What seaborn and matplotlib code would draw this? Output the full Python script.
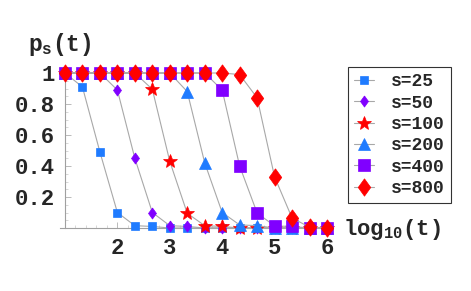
import matplotlib
matplotlib.use('Agg')
import matplotlib.pyplot as plt
import seaborn as sns
import pandas as pd
from matplotlib.ticker import MultipleLocator, FixedLocator

# ---- data ----
log_t = [1.0, 1.333, 1.667, 2.0, 2.333, 2.667, 3.0, 3.333,
         3.667, 4.0, 4.333, 4.667, 5.0, 5.333, 5.667, 6.0]
p_s25 = [1.0, 0.91, 0.49, 0.10, 0.015, 0.01, 0.0, 0.0,
         0.0, 0.0, 0.0, 0.0, 0.0, 0.0, 0.0, 0.0]
p_s50 = [1.0, 1.0, 1.0, 0.89, 0.45, 0.10, 0.015, 0.01,
         0.0, 0.0, 0.0, 0.0, 0.0, 0.0, 0.0, 0.0]
p_s100 = [1.0, 1.0, 1.0, 1.0, 1.0, 0.895, 0.43, 0.095,
          0.015, 0.01, 0.0, 0.0, 0.0, 0.0, 0.0, 0.0]
p_s200 = [1.0, 1.0, 1.0, 1.0, 1.0, 1.0, 1.0, 0.88,
          0.42, 0.10, 0.02, 0.015, 0.0, 0.0, 0.0, 0.0]
p_s400 = [1.0, 1.0, 1.0, 1.0, 1.0, 1.0, 1.0, 1.0,
          1.0, 0.89, 0.40, 0.097, 0.013, 0.01, 0.0, 0.0]
p_s800 = [1.0, 1.0, 1.0, 1.0, 1.0, 1.0, 1.0, 1.0,
          1.0, 1.0, 0.99, 0.84, 0.33, 0.065, 0.005, 0.002]
series_labels = ['s=25', 's=50', 's=100', 's=200', 's=400', 's=800']
series_values = [p_s25, p_s50, p_s100, p_s200, p_s400, p_s800]
x_ticks = [2, 3, 4, 5, 6]
y_ticks = [0.2, 0.4, 0.6, 0.8, 1.0]
y_ticklabels = ['0.2', '0.4', '0.6', '0.8', '1']

# ---- styles ----
diamond = [(0, 1), (0.72, 0), (0, -1), (-0.72, 0), (0, 1)]
blue = '#1f7bff'
purple = '#8000ff'
red = '#ff0000'
styles = [
    dict(marker='s', ms=5.3, c=blue),
    dict(marker=diamond, ms=8, c=purple),
    dict(marker='*', ms=10, c=red),
    dict(marker='^', ms=8, c=blue),
    dict(marker='s', ms=9, c=purple),
    dict(marker=diamond, ms=12.5, c=red),
]

sns.set_theme(style='white')
plt.rcParams['font.family'] = ['Liberation Mono', 'DejaVu Sans']
plt.rcParams['mathtext.fontset'] = 'custom'
plt.rcParams['mathtext.rm'] = 'Liberation Mono'
plt.rcParams['mathtext.it'] = 'Liberation Mono'
plt.rcParams['mathtext.bf'] = 'Liberation Mono:bold'

fig = plt.figure(figsize=(4.71, 2.91), dpi=100)
ax = fig.add_axes([60 / 471, 1 - 232.65 / 291, 273 / 471, (232.65 - 68.35) / 291])

rows = []
for lab, vals in zip(series_labels, series_values):
    for xv, yv in zip(log_t, vals):
        rows.append(dict(log_t=xv, p=yv, s=lab))
df = pd.DataFrame(rows)

for i, (lab, st) in enumerate(zip(series_labels, styles)):
    sub = df[df['s'] == lab]
    sns.lineplot(data=sub, x='log_t', y='p', ax=ax, color='#a8a8a8', lw=0.8,
                 marker=st['marker'], markersize=st['ms'],
                 markerfacecolor=st['c'], markeredgecolor=st['c'],
                 markeredgewidth=0.5, label=lab, clip_on=False,
                 zorder=3 + i, errorbar=None, legend=False)

ax.set_xlim(0.905, 6.115)
ax.set_ylim(-0.03, 1.03)
ax.set_facecolor('none')
for sp in ['top', 'right']:
    ax.spines[sp].set_visible(False)
ax.spines['left'].set_position(('data', 1.0))
ax.spines['left'].set_bounds(0, 1.0)
ax.spines['bottom'].set_position(('data', 0.0))
for sp in ['left', 'bottom']:
    ax.spines[sp].set_color('#a0a0a0')
    ax.spines[sp].set_linewidth(0.8)

ax.xaxis.set_major_locator(FixedLocator(x_ticks))
ax.yaxis.set_major_locator(FixedLocator(y_ticks))
ax.set_xticklabels([str(v) for v in x_ticks])
ax.set_yticklabels(y_ticklabels)
ax.xaxis.set_minor_locator(MultipleLocator(0.2))
ax.yaxis.set_minor_locator(MultipleLocator(0.05))
ax.tick_params(which='major', direction='in', length=4, width=0.6, color='#b0b0b0',
               labelsize=16, pad=7, bottom=True, left=True)
ax.tick_params(which='minor', direction='in', length=2, width=0.5, color='#c8c8c8',
               bottom=True, left=True)
for t in ax.get_xticklabels() + ax.get_yticklabels():
    t.set_fontweight('bold')
ax.set_xlabel('')
ax.set_ylabel('')

fig.text(28 / 471, 1 - 51 / 291, r'$\mathbf{p_s(t)}$', fontsize=16.5, ha='left', va='baseline')
fig.text(343 / 471, 1 - 235 / 291, r'$\mathbf{log_{10}(t)}$', fontsize=16, ha='left', va='baseline')

handles, labels = ax.get_legend_handles_labels()
leg = fig.legend(handles, labels, loc='upper left', bbox_to_anchor=(348 / 471, 1 - 67 / 291),
                 frameon=True, fancybox=False, edgecolor='black',
                 handlelength=1.1, handletextpad=0.95, labelspacing=0.24,
                 borderpad=0.35, borderaxespad=0,
                 prop={'weight': 'bold', 'size': 13})
leg.get_frame().set_linewidth(0.8)

fig.savefig('out.png', dpi=100)
